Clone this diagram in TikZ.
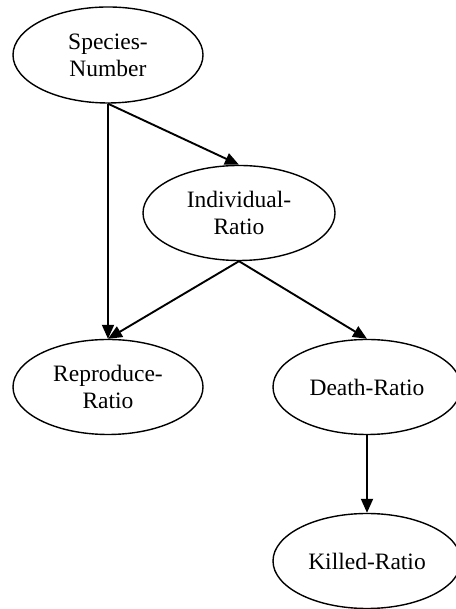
\documentclass[tikz,border=0pt]{standalone}
\usepackage{fontspec}
\setmainfont{Liberation Serif}
\usetikzlibrary{shapes.geometric,arrows.meta}

\begin{document}
\begin{tikzpicture}[x=1pt, y=1pt,
    var/.style={ellipse, draw, line width=1.4pt, inner sep=0pt, align=center,
        minimum height=95pt, font=\fontsize{23.5}{27}\selectfont},
    edge/.style={line width=1.9pt, -{Triangle[length=14pt, width=12pt]}}]
    \useasboundingbox (0,0) rectangle (455,609);
    \node[var, minimum width=190pt, minimum height=96pt] (spec) at (108,554) {Species-\\Number};
    \node[var, minimum width=192pt] (indiv) at (239,396) {Individual-\\Ratio};
    \node[var, minimum width=190pt] (repro) at (108,222) {Reproduce-\\Ratio};
    \node[var, minimum width=188pt] (death) at (367,222) {Death-Ratio};
    \node[var, minimum width=188pt] (killed) at (367,48) {Killed-Ratio};
    \draw[edge] (spec.south) -- (indiv.north);
    \draw[edge] (spec.south) -- (repro.north);
    \draw[edge] (indiv.south) -- (repro.north);
    \draw[edge] (indiv.south) -- (death.north);
    \draw[edge] (death.south) -- (killed.north);
\end{tikzpicture}
\end{document}
